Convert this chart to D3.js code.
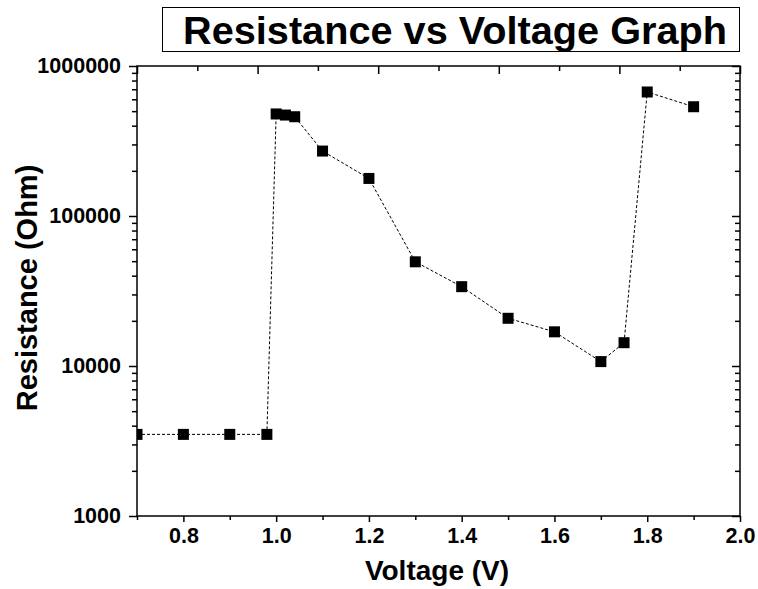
<!DOCTYPE html>
<html>
<head>
<meta charset="utf-8">
<script src="https://cdn.jsdelivr.net/npm/d3@7"></script>
<style>
  body { margin: 0; background: #fff; }
  svg text { font-family: Arial, "Liberation Sans", sans-serif; font-weight: bold; fill: #000; }
</style>
</head>
<body>
<svg id="chart" width="758" height="589"></svg>
<script>
const width = 758, height = 589;
const margin = { top: 66, right: 18, bottom: 73, left: 137 };

// data
const voltage = [0.7, 0.8, 0.9, 0.98, 1.0, 1.02, 1.04, 1.1, 1.2, 1.3, 1.4, 1.5, 1.6, 1.7, 1.75, 1.8, 1.9];
const resistance = [3500, 3500, 3500, 3500, 479000, 471000, 459000, 271000, 178000, 49500, 33800, 20800, 16900, 10700, 14300, 671000, 535000];

const xTicks = [0.8, 1.0, 1.2, 1.4, 1.6, 1.8, 2.0];
const xMinorTicks = [0.7, 0.9, 1.1, 1.3, 1.5, 1.7, 1.9];
const topTicks = [0.7, 0.83, 0.96, 1.09, 1.22, 1.35, 1.48, 1.61, 1.74, 1.87, 2.0];
const yTicks = [1000, 10000, 100000, 1000000];

const data = voltage.map((v, i) => ({ v: v, r: resistance[i] }));

const svg = d3.select("#chart");
const x = d3.scaleLinear().domain([0.7, 2.0]).range([margin.left, width - margin.right]);
const y = d3.scaleLog().domain([1000, 1000000]).range([height - margin.bottom, margin.top]);
const yMinor = y.ticks().filter(t => !yTicks.includes(t));

// title box
svg.append("rect")
    .attr("x", 162.5).attr("y", 7.5)
    .attr("width", 577).attr("height", 44)
    .attr("fill", "none").attr("stroke", "#000").attr("stroke-width", 1);
svg.append("text")
    .attr("x", 455).attr("y", 44)
    .attr("text-anchor", "middle")
    .attr("font-size", 38)
    .attr("textLength", 544).attr("lengthAdjust", "spacingAndGlyphs")
    .text("Resistance vs Voltage Graph");

function styleAxis(g) {
    g.select(".domain").remove();
    g.selectAll(".tick line").attr("stroke", "#000").attr("stroke-width", 1.5);
    g.selectAll(".tick text").attr("font-size", 21.5).attr("font-family", null);
}

// bottom
svg.append("g")
    .attr("transform", `translate(0,${height - margin.bottom})`)
    .call(d3.axisBottom(x).tickValues(xTicks).tickSize(6).tickPadding(6).tickFormat(d3.format(".1f")))
    .call(styleAxis);
svg.append("g")
    .attr("transform", `translate(0,${height - margin.bottom})`)
    .call(d3.axisBottom(x).tickValues(xMinorTicks).tickSize(4).tickFormat(""))
    .call(styleAxis);

// top (inward, alternating lengths)
svg.append("g")
    .attr("transform", `translate(0,${margin.top})`)
    .call(d3.axisTop(x).tickValues(topTicks.filter((d, i) => i % 2 === 0)).tickSize(-8).tickFormat(""))
    .call(styleAxis);
svg.append("g")
    .attr("transform", `translate(0,${margin.top})`)
    .call(d3.axisTop(x).tickValues(topTicks.filter((d, i) => i % 2 === 1)).tickSize(-5).tickFormat(""))
    .call(styleAxis);

// left
svg.append("g")
    .attr("transform", `translate(${margin.left},0)`)
    .call(d3.axisLeft(y).tickValues(yTicks).tickSize(8).tickPadding(8).tickFormat(d3.format("d")))
    .call(styleAxis);
svg.append("g")
    .attr("transform", `translate(${margin.left},0)`)
    .call(d3.axisLeft(y).tickValues(yMinor).tickSize(5).tickFormat(""))
    .call(styleAxis);

// right (inward)
svg.append("g")
    .attr("transform", `translate(${width - margin.right},0)`)
    .call(d3.axisRight(y).tickValues(yTicks).tickSize(-8).tickFormat(""))
    .call(styleAxis);
svg.append("g")
    .attr("transform", `translate(${width - margin.right},0)`)
    .call(d3.axisRight(y).tickValues(yMinor).tickSize(-5).tickFormat(""))
    .call(styleAxis);

// frame
svg.append("rect")
    .attr("x", margin.left).attr("y", margin.top)
    .attr("width", width - margin.left - margin.right)
    .attr("height", height - margin.top - margin.bottom)
    .attr("fill", "none").attr("stroke", "#000").attr("stroke-width", 1.5);

svg.append("clipPath").attr("id", "plot-clip")
    .append("rect")
    .attr("x", margin.left).attr("y", margin.top)
    .attr("width", width - margin.left - margin.right)
    .attr("height", height - margin.top - margin.bottom);

const plot = svg.append("g").attr("clip-path", "url(#plot-clip)");

const line = d3.line().x(d => x(d.v)).y(d => y(d.r));
plot.append("path")
    .datum(data)
    .attr("d", line)
    .attr("fill", "none")
    .attr("stroke", "#000")
    .attr("stroke-width", 1)
    .attr("stroke-dasharray", "3,2");

const size = 11;
plot.selectAll("rect.pt")
    .data(data)
    .enter()
    .append("rect")
    .attr("class", "pt")
    .attr("x", d => x(d.v) - size / 2)
    .attr("y", d => y(d.r) - size / 2)
    .attr("width", size).attr("height", size)
    .attr("fill", "#000");

// axis titles
svg.append("text")
    .attr("x", 437).attr("y", 580)
    .attr("text-anchor", "middle")
    .attr("font-size", 28)
    .text("Voltage (V)");

svg.append("text")
    .attr("transform", `translate(37,${(margin.top + height - margin.bottom) / 2 - 3}) rotate(-90)`)
    .attr("text-anchor", "middle")
    .attr("font-size", 29)
    .text("Resistance (Ohm)");
</script>
</body>
</html>
